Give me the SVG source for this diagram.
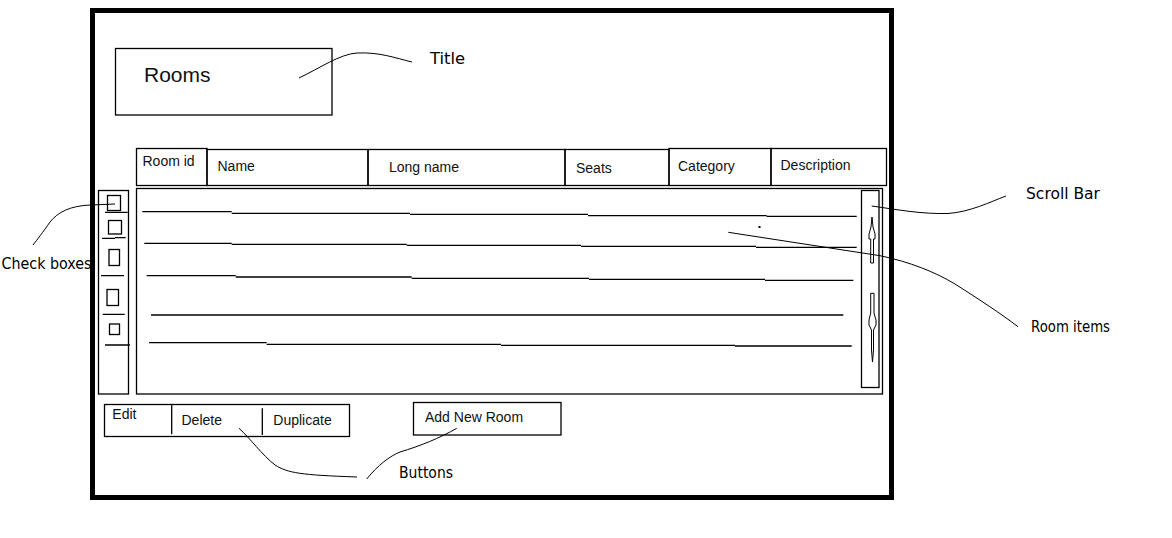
<svg xmlns="http://www.w3.org/2000/svg" width="1172" height="538" viewBox="0 0 1172 538">
<style>
.box{fill:none;stroke:#000;stroke-width:1.3}
.ln{fill:none;stroke:#000;stroke-width:1.3}
.thin{fill:none;stroke:#000;stroke-width:1}
.ui{font-family:"Liberation Sans",Arial,sans-serif;font-size:14px;fill:#111}
.lbl{font-family:"DejaVu Sans","Liberation Sans",sans-serif;font-size:15px;fill:#000}
</style>
<rect x="0" y="0" width="1172" height="538" fill="#fff"/>
<g id="frame"><rect x="92.5" y="10.5" width="799" height="487" fill="none" stroke="#000" stroke-width="5"/></g>
<g id="title-box"><rect class="box" x="115.5" y="48.5" width="216.5" height="66.5"/><text x="144" y="82" font-family="Liberation Sans,Arial,sans-serif" font-size="21" fill="#111">Rooms</text></g>
<g id="header">
<rect class="box" x="136.5" y="148.5" width="70.5" height="37"/>
<rect class="box" x="207" y="149.5" width="161" height="36"/>
<rect class="box" x="368" y="149.5" width="197" height="36"/>
<rect class="box" x="565" y="149.5" width="104" height="36"/>
<rect class="box" x="669" y="148.5" width="102" height="37"/>
<rect class="box" x="771" y="148.5" width="115.5" height="37"/>
<text class="ui" x="142.5" y="166">Room id</text>
<text class="ui" x="217.5" y="171">Name</text>
<text class="ui" x="389" y="172">Long name</text>
<text class="ui" x="576" y="173">Seats</text>
<text class="ui" x="678" y="171">Category</text>
<text class="ui" x="780.5" y="170">Description</text>
</g>
<g id="checkboxes">
<rect class="box" x="98.5" y="190.5" width="30" height="203.5"/>
<rect class="box" x="107.5" y="195.5" width="13" height="15"/>
<rect class="box" x="108.5" y="220.5" width="13" height="13.5"/>
<rect class="box" x="109" y="249.5" width="10.5" height="16"/>
<rect class="box" x="107" y="289.5" width="11.5" height="16"/>
<rect class="box" x="109.5" y="324" width="10" height="10.5"/>
<path class="ln" d="M105 212.3H127.7M102 238.3H115M115 237.7H125.7M101 275.7H124M102.7 314.3H124.7M105 345H130"/>
</g>
<g id="room-list">
<rect class="box" x="136.5" y="188.5" width="746" height="205.5"/>
<path class="ln" d="M142.3 211.7H231.7M231.7 213.3H410M410 214.3H588M588 215.7H766.7M766.7 216.3H856.7"/>
<path class="ln" d="M144.3 243.3H231.7M231.7 244.3H406.7M406.7 245.3H581M581 246.3H756M756 247.3H856.7"/>
<path class="ln" d="M146.7 275.7H235.7M235.7 277H411.7M411.7 278.3H589M589 279.3H765M765 280.3H853.3"/>
<path class="ln" d="M151 315H843.3"/>
<path class="ln" d="M149 342.7H266.7M266.7 344.3H501M501 345.3H735M735 346H851.7"/>
<rect x="758.5" y="226" width="2" height="2" fill="#000"/>
</g>
<g id="scroll-bar">
<rect class="box" x="861.5" y="190.5" width="17.5" height="197"/>
<path class="thin" d="M872 217L871 227L869 234V239H870.7V263H873.5V239H875V234L873 227Z"/>
<path class="thin" d="M870.7 293.3H874V313L876 320V325L873.5 330V350L872.5 362L871.5 350V330L869 325V320L870.7 313Z"/>
</g>
<g id="buttons">
<rect class="box" x="104.5" y="404.5" width="245" height="32"/>
<path class="ln" d="M171.7 404.5V434.3M262.3 408.3V435"/>
<rect class="box" x="413.5" y="402.5" width="147.5" height="32.5"/>
<text class="ui" x="112.3" y="419">Edit</text>
<text class="ui" x="181.5" y="425">Delete</text>
<text class="ui" x="273.3" y="424.5">Duplicate</text>
<text class="ui" x="425" y="422">Add New Room</text>
</g>
<g id="connectors" fill="none" stroke="#000" stroke-width="1">
<path d="M299 78C320 68 340 54 357 53C380 52 395 58 412 62"/>
<path d="M115 204L90 205C70 206 58 212 50 222C43 232 37 240 33 245"/>
<path d="M871.7 206C900 210 920 214 948 213.5C970 212 990 202 1006 196"/>
<path d="M728.3 232.3L880 255.7C910 262 935 272 955 284C980 300 1000 313 1018 326.7"/>
<path d="M239 428.3C250 438 262 455 275 465C288 473 300 475 357 477"/>
<path d="M366.7 479C378 465 390 456 400 452C420 446 440 438 456.7 428.3"/>
</g>
<g id="labels">
<text class="lbl" x="430" y="64" textLength="35" lengthAdjust="spacingAndGlyphs">Title</text>
<text class="lbl" x="1026" y="199" textLength="74" lengthAdjust="spacingAndGlyphs">Scroll Bar</text>
<text class="lbl" x="1031" y="332" textLength="79" lengthAdjust="spacingAndGlyphs">Room items</text>
<text class="lbl" x="1.5" y="269" textLength="90" lengthAdjust="spacingAndGlyphs">Check boxes</text>
<text class="lbl" x="399" y="478" textLength="54" lengthAdjust="spacingAndGlyphs">Buttons</text>
</g>
</svg>
